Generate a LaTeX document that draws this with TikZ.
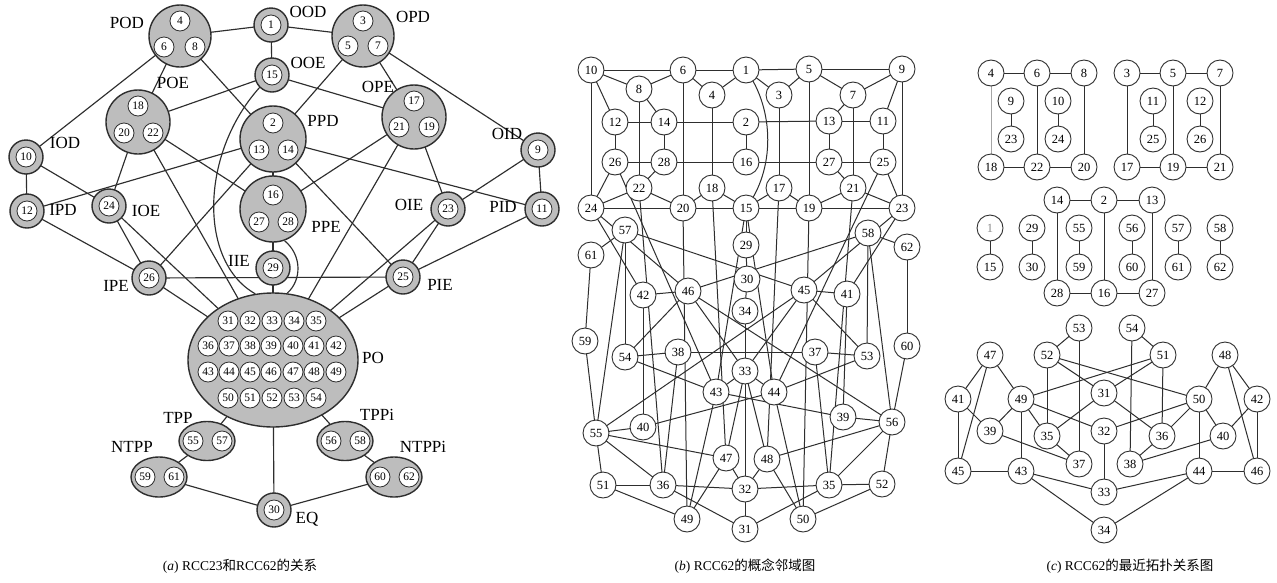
\documentclass[tikz,border=0pt]{standalone}
\usepackage{fontspec}
\setmainfont{Liberation Serif}
\newfontfamily\cjk{Noto Sans CJK SC}
\usetikzlibrary{shapes.geometric}
\pgfdeclarelayer{back}
\pgfdeclarelayer{bg}
\pgfsetlayers{back,bg,main}
\definecolor{agray}{gray}{0.74}
\definecolor{lc}{gray}{0.18}
\tikzset{
 edge/.style={draw=lc, line width=1pt},
 aedge/.style={draw=lc, line width=1.15pt},
 abig/.style={circle, draw=lc, line width=1.4pt, fill=agray, inner sep=0pt},
 aell/.style={ellipse, draw=lc, line width=1.4pt, fill=agray, inner sep=0pt},
 ain/.style={circle, draw=lc, line width=0.8pt, fill=white, inner sep=0pt, minimum size=20pt, font=\fontsize{11.5}{11.5}\selectfont},
 alab/.style={font=\fontsize{17}{17}\selectfont, inner sep=0pt},
 bn/.style={circle, draw=lc, line width=0.9pt, fill=white, inner sep=0pt, minimum size=26pt, font=\fontsize{12.5}{12.5}\selectfont},
 captxt/.style={font=\fontsize{13.5}{13.5}\selectfont, inner sep=0pt}
}
\newcommand\asing[4]{\node[abig, minimum size=34pt] (#1) at (#2,#3) {};\node[ain] (a#4) at (#2,#3) {#4};}
\begin{document}
\begin{tikzpicture}[x=1pt,y=-1pt]
\begin{pgfonlayer}{back}
\fill[white] (0,0) rectangle (1277,582);
\end{pgfonlayer}
\useasboundingbox (0,0) rectangle (1277,582);
% ---------------- panel (a) ----------------
\node[abig, minimum size=62pt] (POD) at (180,36) {};
\node[ain] (a4) at (180,21) {4}; \node[ain] (a6) at (164,47) {6}; \node[ain] (a8) at (195,47) {8};
\asing{OOD}{271}{25}{1}
\node[abig, minimum size=62pt] (OPD) at (363,36) {};
\node[ain] (a3) at (363,21) {3}; \node[ain] (a5) at (348,46) {5}; \node[ain] (a7) at (378,46) {7};
\asing{OOE}{272}{75}{15}
\node[abig, minimum size=64pt] (POE) at (138,122) {};
\node[ain] (a18) at (138,106) {18}; \node[ain] (a20) at (124,133) {20}; \node[ain] (a22) at (153,133) {22};
\node[abig, minimum size=66pt] (PPD) at (273,139) {};
\node[ain] (a2) at (273,123) {2}; \node[ain] (a13) at (259,150) {13}; \node[ain] (a14) at (288,150) {14};
\node[abig, minimum size=64pt] (OPE) at (414,117) {};
\node[ain] (a17) at (414,101) {17}; \node[ain] (a21) at (399,127) {21}; \node[ain] (a19) at (429,127) {19};
\asing{IOD}{26}{157}{10}
\asing{OID}{538}{150}{9}
\asing{IPD}{27}{211}{12}
\asing{IOE}{109}{206}{24}
\node[abig, minimum size=66pt] (PPE) at (273,209) {};
\node[ain] (a16) at (273,195) {16}; \node[ain] (a27) at (259,222) {27}; \node[ain] (a28) at (288,222) {28};
\asing{OIE}{448}{209}{23}
\asing{PID}{542}{209}{11}
\asing{IIE}{273}{268}{29}
\asing{IPE}{149}{278}{26}
\asing{PIE}{403}{277}{25}
\node[aell, minimum width=170pt, minimum height=134pt] (PO) at (273,360) {};
\foreach \n/\x in {31/228,32/250,33/272,34/294,35/316} \node[ain] (a\n) at (\x,321) {\n};
\foreach \n/\x in {36/208,37/229,38/250,39/271,40/293,41/314,42/336} \node[ain] (a\n) at (\x,346) {\n};
\foreach \n/\x in {43/208,44/229,45/250,46/271,47/293,48/314,49/336} \node[ain] (a\n) at (\x,372) {\n};
\foreach \n/\x in {50/228,51/250,52/272,53/294,54/316} \node[ain] (a\n) at (\x,398) {\n};
\node[aell, minimum width=56pt, minimum height=39pt] (TPP) at (207,441) {};
\node[ain] (a55) at (193,441) {55}; \node[ain] (a57) at (222,441) {57};
\node[aell, minimum width=56pt, minimum height=39pt] (TPPi) at (345,441) {};
\node[ain] (a56) at (331,441) {56}; \node[ain] (a58) at (360,441) {58};
\node[aell, minimum width=56pt, minimum height=40pt] (NTPP) at (159,477) {};
\node[ain] (a59) at (145,477) {59}; \node[ain] (a61) at (174,477) {61};
\node[aell, minimum width=56pt, minimum height=40pt] (NTPPi) at (394,477) {};
\node[ain] (a60) at (380,477) {60}; \node[ain] (a62) at (409,477) {62};
\asing{EQ}{274}{510}{30}
% labels
\foreach \t/\x/\y in {POD/127/23, OOD/308/12, OPD/413/17, OOE/308/63, POE/173/83, OPE/378/87, PPD/323/121, IOD/65/143, OID/507/134, IPD/63/210, IOE/146/211, PPE/326/227, OIE/409/205, PID/503/207, IIE/239/261, IPE/116/286, PIE/440/285, PO/373/358, TPP/178/418, TPPi/377/415, NTPP/132/447, NTPPi/423/447, EQ/307/519}
  \node[alab] (l\t) at (\x,\y) {\t};
\begin{pgfonlayer}{bg}
\foreach \u/\v in {POD/OOD, OOD/OPD, OOD/OOE, POD/IOD, POD/POE, POD/PPD, OPD/OID, OPD/OPE, OPD/PPD, OOE/POE, OOE/OPE, IOD/IPD, IOD/IOE, OID/PID, OID/OIE, IPD/PPD, PID/PPD, POE/IOE, POE/PPE, POE/PO, OPE/OIE, OPE/PPE, OPE/PO, PPD/PPE, PPD/PIE, PPD/IPE, IPD/IPE, PID/PIE, IOE/IPE, OIE/PIE, IOE/PO, OIE/PO, IPE/PIE, IPE/PO, PIE/PO, PPE/IIE, IIE/PO, PO/TPP, PO/TPPi, PO/EQ, TPP/NTPP, TPPi/NTPPi, NTPP/EQ, NTPPi/EQ}
  \draw[aedge] (\u.center) -- (\v.center);
\draw[aedge] (OOE.center) .. controls (200,140) and (195,260) .. (PO.105);
\draw[aedge] (PPE.290) .. controls (302,255) and (302,280) .. (PO.78);
\end{pgfonlayer}
% ---------------- panel (b) ----------------
\foreach \n/\x/\y in {10/591/70, 6/683/70, 1/746/70, 5/809/69, 9/902/69,
  8/639/89, 4/712/95, 3/779/95, 7/853/95,
  12/615/122, 14/664/122, 2/746/122, 13/829/121, 11/883/121,
  26/615/162, 28/664/162, 16/746/162, 27/829/162, 25/883/162,
  22/639/188, 18/712/188, 17/779/188, 21/853/188,
  24/591/208, 20/683/208, 15/746/208, 19/809/208, 23/902/208,
  57/625/230, 58/868/233, 29/746/245, 61/591/255, 62/907/247,
  30/747/279, 42/643/295, 46/688/291, 45/804/290, 41/847/294,
  34/745/311, 59/585/341, 60/907/346,
  54/625/357, 38/678/352, 37/815/352, 53/867/356,
  33/745/371, 43/716/392, 44/774/392,
  39/843/417, 40/643/427, 55/596/433, 56/892/422,
  47/726/458, 48/767/459,
  51/603/485, 36/663/485, 32/745/489, 35/829/485, 52/882/484,
  49/687/519, 50/803/519, 31/745/529}
  \node[bn] (b\n) at (\x,\y) {\n};
\begin{pgfonlayer}{bg}
\foreach \u/\v in {10/6, 6/1, 1/5, 5/9, 10/8, 8/6, 6/4, 4/1, 1/3, 3/5, 5/7, 7/9,
  10/12, 10/24, 9/11, 9/23, 8/14, 7/13, 8/22, 7/21, 6/20, 5/19, 4/18, 3/17,
  12/14, 14/2, 2/13, 13/11, 12/26, 14/28, 2/16, 13/27, 11/25,
  26/28, 28/16, 16/27, 27/25, 26/24, 25/23, 28/22, 27/21, 22/24, 21/23, 22/20, 21/19,
  24/20, 20/15, 15/19, 19/23, 20/18, 19/17, 18/15, 17/15,
  15/29, 29/30, 30/34, 34/33, 33/32, 32/31,
  57/61, 58/62, 61/59, 62/60, 59/55, 60/56, 57/55, 58/56, 57/54, 58/53, 57/45, 58/46,
  24/42, 23/41, 24/46, 23/45, 42/46, 41/45,
  54/38, 53/37, 54/43, 53/44, 54/46, 53/45, 38/37,
  55/40, 56/39, 55/45, 56/46, 55/47, 56/48, 55/36, 56/35, 55/51, 56/52, 51/36, 52/35,
  51/49, 52/50, 36/32, 35/32, 36/31, 35/31, 49/47, 50/48, 47/32, 48/32, 47/33, 48/33,
  40/44, 39/43, 43/33, 44/33,
  22/36, 21/35, 20/49, 19/50, 18/47, 17/48, 15/43, 15/44, 26/43, 25/44,
  38/36, 37/35, 42/40, 41/39, 46/33, 45/33, 43/49, 44/50}
  \draw[edge] (b\u.center) -- (b\v.center);
\draw[edge] (b1.center) .. controls (775,110) and (775,170) .. (b15.center);
\end{pgfonlayer}
% ---------------- panel (c) ----------------
\foreach \n/\x/\y in {4/991/73, 6/1037/73, 8/1084/73, 3/1127/73, 5/1173/73, 7/1220/73,
  9/1011/101, 10/1058/101, 11/1153/101, 12/1200/101,
  23/1011/139, 24/1058/139, 25/1153/139, 26/1200/139,
  18/991/167, 22/1037/167, 20/1084/167, 17/1127/167, 19/1173/167, 21/1220/167,
  14/1057/200, 2/1104/200, 13/1152/200,
  29/1032/228, 55/1079/228, 56/1132/228, 57/1178/228, 58/1220/228,
  15/990/267, 30/1032/267, 59/1079/267, 60/1132/267, 61/1178/267, 62/1220/267,
  28/1057/293, 16/1104/293, 27/1152/293,
  53/1079/328, 54/1132/328,
  47/990/355, 52/1047/355, 51/1163/355, 48/1225/355,
  41/958/399, 49/1021/399, 31/1104/393, 50/1199/399, 42/1257/399,
  39/990/431, 35/1047/436, 32/1104/431, 36/1162/436, 40/1223/436,
  45/958/471, 43/1021/471, 37/1079/464, 38/1130/464, 44/1199/471, 46/1257/471,
  33/1104/492, 34/1104/530}
  \node[bn] (c\n) at (\x,\y) {\n};
\node[bn, text=black!45] (c1) at (990,228) {1};
\begin{pgfonlayer}{bg}
\foreach \u/\v in {4/6, 6/8, 6/22, 8/20, 9/23, 10/24, 18/22, 22/20,
  3/5, 5/7, 3/17, 5/19, 7/21, 11/25, 12/26, 17/19, 19/21,
  14/2, 2/13, 14/28, 2/16, 13/27, 28/16, 16/27,
  1/15, 29/30, 55/59, 56/60, 57/61, 58/62,
  53/52, 53/37, 54/51, 54/38, 47/41, 47/49, 47/45, 52/35, 52/31, 31/36, 52/50,
  51/49, 51/31, 31/35, 51/36, 49/39, 49/43, 49/35, 49/32, 50/48, 50/40, 50/36,
  50/44, 50/32, 48/42, 48/46, 41/39, 41/45, 42/40, 42/46, 39/37, 35/37, 36/38,
  40/38, 32/33, 45/43, 44/46, 43/33, 43/34, 44/33, 44/34}
  \draw[edge] (c\u.center) -- (c\v.center);
\draw[draw=black!35, line width=0.9pt] (c4.center) -- (c18.center);
\end{pgfonlayer}
% ---------------- captions ----------------
\node[captxt] (capa) at (240,566) {(\textit{a}) RCC23{\cjk 和}RCC62{\cjk 的关系}};
\node[captxt] (capb) at (745,566) {(\textit{b}) RCC62{\cjk 的概念邻域图}};
\node[captxt] (capc) at (1130,566) {(\textit{c}) RCC62{\cjk 的最近拓扑关系图}};
\end{tikzpicture}
\end{document}
